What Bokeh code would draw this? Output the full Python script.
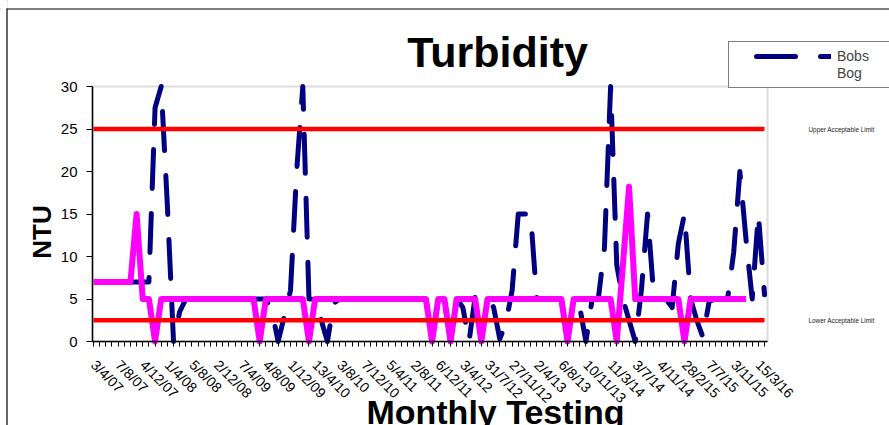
import math
import numpy as np
from bokeh.plotting import figure
from bokeh.models import (ColumnDataSource, Range1d, FixedTicker, Label, Legend, LegendItem,
                          BoxAnnotation, Span)
from bokeh.embed import file_html
from bokeh.resources import INLINE

# ---- data ----
tick_labels = ["3/4/07", "7/8/07", "4/12/07", "1/4/08", "5/8/08", "2/12/08", "7/4/09",
               "4/8/09", "1/12/09", "13/4/10", "3/8/10", "7/12/10", "5/4/11", "2/8/11",
               "6/12/11", "3/4/12", "31/7/12", "27/11/12", "2/4/13", "6/8/13", "10/11/13",
               "11/3/14", "3/7/14", "4/11/14", "28/2/15", "7/7/15", "3/11/15", "15/3/16"]
label_step = 4

bobs_bog = [7, 7, 7, 7, 7, 7, 7, 7, 7, 7,
            27.5, 30, 16, 0, 3.5, 5, 5, 5, 5, 5,
            5, 5, 5, 5, 5, 5, 5, 5, 5, 3.5,
            0, 3, 6, 20, 30, 5, 5, 2.5, 0, 4.5,
            5, 5, 5, 5, 5, 5, 5, 5, 5, 5,
            5, 5, 5, 5, 5, 0, 5, 5, 0, 5,
            4, 0, 5.3, 5.3, 5.3, 4, 0.3, 2.2, 6, 15,
            15, 15, 5, 5, 5, 5, 5, 0, 5, 4,
            0, 5, 5, 11, 30, 9, 5, 2.5, 0, 6,
            15, 5.5, 5, 5, 4, 11.5, 15, 5, 2.5, 0.5,
            4.7, 5, 5, 5, 10.5, 20, 12, 5, 15, 5.5]

second_site = [7, 7, 7, 7, 7, 7, 7, 15, 5, 5,
               0, 5, 5, 5, 5, 5, 5, 5, 5, 5,
               5, 5, 5, 5, 5, 5, 5, 0, 5, 5,
               5, 5, 5, 5, 5, 0, 5, 5, 5, 5,
               5, 5, 5, 5, 5, 5, 5, 5, 5, 5,
               5, 5, 5, 5, 5, 0, 5, 5, 0, 5,
               5, 5, 5, 0, 5, 5, 5, 5, 5, 5,
               5, 5, 5, 5, 5, 5, 5, 0, 5, 5,
               5, 5, 5, 5, 5, 0, 9, 18.2, 5, 5,
               5, 5, 5, 5, 5, 5, 0, 5, 5, 5,
               5, 5, 5, 5, 5, 5, 5, None, None, None]

upper_limit = 25.0
lower_limit = 2.5
y_ticks = [0, 5, 10, 15, 20, 25, 30]
y_min, y_max = 0, 30

# ---- build ----
n = len(bobs_bog)
idx = list(range(n))
src = ColumnDataSource(dict(
    x=idx,
    bobs=np.array(bobs_bog, dtype=float),
    other=np.array(second_site, dtype=float),
    upper=np.full(n, upper_limit),
    lower=np.full(n, lower_limit),
))

W, H = 889, 425
FONT = "Liberation Sans"

# plot area inside the canvas (pixels): first point x=93, last x=764, value 0 at y=341, 30 at y=86
px_per_cat = (764 - 93) / (n - 1)
px_per_unit = (341 - 86) / (y_max - y_min)
x_start = -93 / px_per_cat
x_end = x_start + W / px_per_cat
y_start = -(H - 341) / px_per_unit
y_end = y_start + H / px_per_unit
area_left = -(93 - 92) / px_per_cat
area_right = (767 - 93) / px_per_cat


def sx(page_x):
    return page_x


def sy(page_y):
    return H - page_y


p = figure(width=W, height=H, output_backend="svg", toolbar_location=None,
           x_range=Range1d(x_start, x_end), y_range=Range1d(y_start, y_end),
           min_border=0, background_fill_color="white", border_fill_color="white")
p.xgrid.grid_line_color = None
p.ygrid.grid_line_color = None
p.outline_line_color = None

# chart border (top and left) and plot-area border
p.add_layout(Span(location=6.5, location_units="screen", dimension="height",
                  line_color="#000000", line_width=1.2, level="underlay"))
p.add_layout(Span(location=sy(8.5), location_units="screen", dimension="width",
                  line_color="#000000", line_width=1.2, level="underlay"))
# trim the border lines so they meet in a corner
p.add_layout(BoxAnnotation(left=0, right=7.4, top=H, bottom=sy(7.8),
                           left_units="screen", right_units="screen",
                           top_units="screen", bottom_units="screen",
                           fill_color="white", fill_alpha=1.0, line_color=None,
                           level="underlay"))
p.add_layout(BoxAnnotation(left=0, right=5.8, top=H, bottom=sy(9.4),
                           left_units="screen", right_units="screen",
                           top_units="screen", bottom_units="screen",
                           fill_color="white", fill_alpha=1.0, line_color=None,
                           level="underlay"))
p.add_layout(BoxAnnotation(left=area_left, right=area_right, bottom=y_min, top=y_max,
                           fill_color=None, line_color="#8a8a8a", line_width=2,
                           level="underlay"))

nav = p.line("x", "bobs", source=src, line_color="#000080", line_width=5,
             line_dash="39 25", line_dash_offset=43, line_cap="round", line_join="round")
p.line("x", "other", source=src, line_color="#FF00FF", line_width=6,
       line_join="round", line_cap="butt")
p.line("x", "upper", source=src, line_color="#FF0000", line_width=4.5)
p.line("x", "lower", source=src, line_color="#FF0000", line_width=4.5)
# invisible helper so the legend's second text line gets its own row
ghost = p.line("x", "bobs", source=src, line_alpha=0)

# x axis
xa = p.xaxis[0]
xa.fixed_location = y_min
xa.bounds = (area_left, area_right)
xa.ticker = FixedTicker(ticks=idx)
overrides = {i: "" for i in idx}
for k, lab in enumerate(tick_labels):
    overrides[k * label_step] = lab
xa.major_label_overrides = overrides
xa.major_label_orientation = -math.pi / 4
xa.major_label_text_font = FONT
xa.major_label_text_font_size = "14px"
xa.major_label_text_color = "#000000"
xa.major_label_standoff = 16
xa.axis_line_color = "#000000"
xa.axis_line_width = 1.5
xa.major_tick_line_color = "#000000"
xa.major_tick_out = 5
xa.major_tick_in = 0
xa.minor_tick_line_color = None

# y axis
ya = p.yaxis[0]
ya.fixed_location = area_left
ya.bounds = (y_min, y_max)
ya.ticker = FixedTicker(ticks=y_ticks)
ya.major_label_text_font = FONT
ya.major_label_text_font_size = "15px"
ya.major_label_text_color = "#000000"
ya.major_label_standoff = 9
ya.axis_line_color = "#000000"
ya.axis_line_width = 1.5
ya.major_tick_line_color = "#000000"
ya.major_tick_out = 6
ya.major_tick_in = 0
ya.minor_tick_line_color = None

# titles
p.add_layout(Label(x=sx(497), y=sy(51), x_units="screen", y_units="screen", text="Turbidity",
                   text_font=FONT, text_font_style="bold", text_font_size="43px",
                   text_align="center", text_baseline="alphabetic", text_color="#000000"))
p.add_layout(Label(x=sx(495), y=sy(411), x_units="screen", y_units="screen",
                   text="Monthly Testing",
                   text_font=FONT, text_font_style="bold", text_font_size="34px",
                   text_align="center", text_baseline="alphabetic", text_color="#000000"))
p.add_layout(Label(x=sx(41), y=sy(231.5), x_units="screen", y_units="screen", text="NTU",
                   angle=math.pi / 2, text_font=FONT, text_font_style="bold",
                   text_font_size="26px", text_align="center", text_baseline="middle",
                   text_color="#000000"))

# limit labels
for lim, txt in ((upper_limit, "Upper Acceptable Limit"), (lower_limit, "Lower Acceptable Limit")):
    p.add_layout(Label(x=sx(808), y=lim, x_units="screen", y_units="data", text=txt,
                       text_font=FONT, text_font_size="6.4px",
                       text_align="left", text_baseline="middle", text_color="#222222"))

legend = Legend(items=[LegendItem(label="Bobs", renderers=[nav]),
                       LegendItem(label="Bog", renderers=[ghost])],
                location=(sx(728), sy(88)), orientation="vertical",
                glyph_width=96, glyph_height=14, label_height=14,
                label_standoff=6, label_width=70,
                padding=6, spacing=1, margin=0,
                label_text_font=FONT, label_text_font_size="14px",
                border_line_color="#000000", border_line_width=1,
                background_fill_color="white", background_fill_alpha=1.0)
p.add_layout(legend)

open("out.html", "w").write(file_html(p, INLINE))
